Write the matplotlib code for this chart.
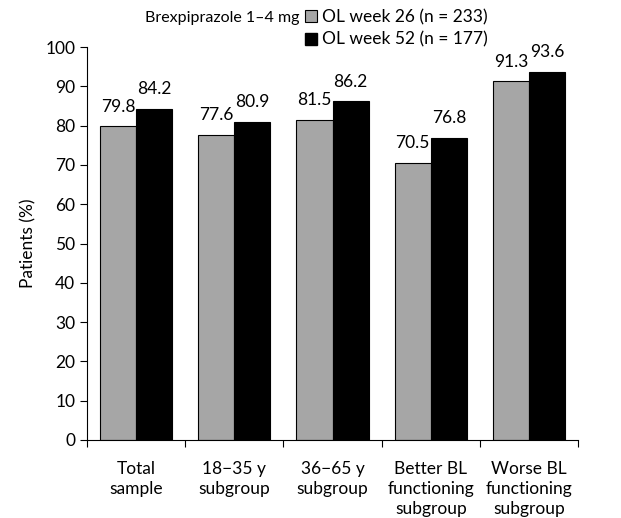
import matplotlib
matplotlib.use("Agg")
import matplotlib.pyplot as plt
import numpy as np
from matplotlib.lines import Line2D

categories = ["Total\nsample", "18\u221235 y\nsubgroup", "36\u221265 y\nsubgroup",
              "Better BL\nfunctioning\nsubgroup", "Worse BL\nfunctioning\nsubgroup"]
week26 = [79.8, 77.6, 81.5, 70.5, 91.3]
week52 = [84.2, 80.9, 86.2, 76.8, 93.6]
series_labels = ["OL week 26 (n = 233)", "OL week 52 (n = 177)"]
title_label = "Brexpiprazole 1\u20134 mg"
yticks = list(range(0, 101, 10))

plt.rcParams['font.family'] = ['Lato', 'DejaVu Sans']
fs = 12.5

fig = plt.figure(figsize=(6.21, 5.18), dpi=100)
ax = fig.add_axes([0.140, 0.1506, 0.791, 0.7584])

x = np.arange(len(categories))
w = 0.367
ax.bar(x - w/2, week26, w, color="#a6a6a6", edgecolor="black", linewidth=0.8)
ax.bar(x + w/2, week52, w, color="black", edgecolor="black", linewidth=0.8)

for xi, v in zip(x - w/2, week26):
    ax.text(xi, v + 3.0, f"{v:.1f}", ha="center", va="bottom", fontsize=fs)
for xi, v in zip(x + w/2, week52):
    ax.text(xi, v + 3.0, f"{v:.1f}", ha="center", va="bottom", fontsize=fs)

ax.set_xlim(-0.5, len(categories) - 0.5)
ax.set_ylim(0, 100)
ax.set_yticks(yticks)
ax.tick_params(axis="y", direction="out", length=5, labelsize=fs, width=0.8)
ax.set_xticks(np.arange(-0.5, len(categories), 1.0))
ax.set_xticklabels([])
ax.tick_params(axis="x", direction="out", length=5, width=0.8)
ax.set_xticks(x, minor=True)
ax.set_xticklabels(categories, minor=True, fontsize=fs, linespacing=1.3)
ax.tick_params(axis="x", which="minor", length=0, pad=15)
for s in ["top", "right"]:
    ax.spines[s].set_visible(False)
for s in ["left", "bottom"]:
    ax.spines[s].set_linewidth(0.8)
ax.set_ylabel("Patients (%)", fontsize=fs, labelpad=6)

handles = [Line2D([], [], marker="s", linestyle="none", markersize=9,
                  markerfacecolor="#a6a6a6", markeredgecolor="black", markeredgewidth=0.8),
           Line2D([], [], marker="s", linestyle="none", markersize=9,
                  markerfacecolor="black", markeredgecolor="black")]
leg = fig.legend(handles, series_labels, loc="upper left", bbox_to_anchor=(0.487, 0.987),
                 frameon=False, fontsize=fs, handlelength=0.7, handletextpad=0.3,
                 labelspacing=0.35, borderaxespad=0, borderpad=0.15)
fig.text(0.483, 0.965, title_label, fontsize=11.5, ha="right", va="center")

fig.savefig("out.png", dpi=100)
